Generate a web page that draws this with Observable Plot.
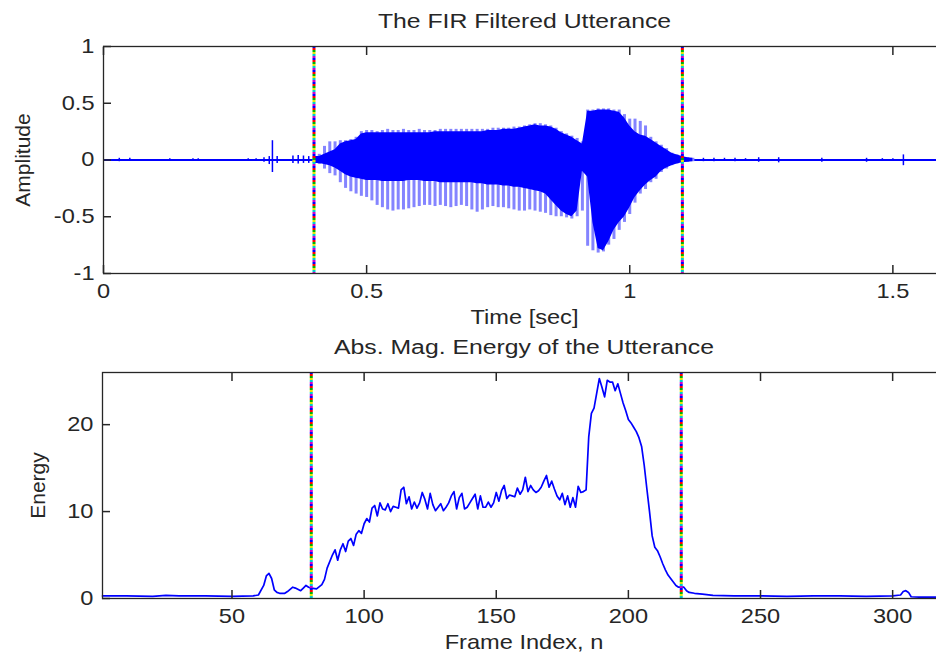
<!DOCTYPE html>
<html>
<head>
<meta charset="utf-8">
<script src="https://cdn.jsdelivr.net/npm/d3@7"></script>
<script src="https://cdn.jsdelivr.net/npm/@observablehq/plot@0.6"></script>
<style>
html, body { margin: 0; padding: 0; background: #fff; }
#wrap { width: 936px; height: 654px; overflow: hidden; position: relative; background: #fff; }
#wrap svg { display: block; max-width: none; }
</style>
</head>
<body>
<div id="wrap"></div>
<script>
// ---------- Panel 1: FIR filtered utterance ----------
const topTitle = "The FIR Filtered Utterance";
const topXLabel = "Time [sec]";
const topYLabel = "Amplitude";
const timeTicks = [0, 0.5, 1, 1.5];
const ampTicks = [-1, -0.5, 0, 0.5, 1];
const timeDomain = [0, 1.6];
const ampDomain = [-1, 1];
const timeBoundaries = [0.4, 1.1];

// envelope of the voiced part, one value per 10 ms
const speechT = [0.40,0.41,0.42,0.43,0.44,0.45,0.46,0.47,0.48,0.49,
  0.50,0.51,0.52,0.53,0.54,0.55,0.56,0.57,0.58,0.59,
  0.60,0.61,0.62,0.63,0.64,0.65,0.66,0.67,0.68,0.69,
  0.70,0.71,0.72,0.73,0.74,0.75,0.76,0.77,0.78,0.79,
  0.80,0.81,0.82,0.83,0.84,0.85,0.86,0.87,0.88,0.89,
  0.90,0.91,0.92,0.93,0.94,0.95,0.96,0.97,0.98,0.99,
  1.00,1.01,1.02,1.03,1.04,1.05,1.06,1.07,1.08,1.09,
  1.10,1.11,1.12];
const denseHi = [0.03,0.03,0.05,0.07,0.09,0.14,0.16,0.17,0.18,0.23,
  0.24,0.24,0.24,0.24,0.24,0.24,0.24,0.24,0.24,0.24,
  0.24,0.24,0.24,0.25,0.25,0.25,0.25,0.25,0.25,0.25,
  0.25,0.25,0.25,0.26,0.26,0.26,0.27,0.27,0.27,0.28,
  0.29,0.30,0.31,0.30,0.30,0.29,0.27,0.24,0.22,0.20,
  0.17,0.14,0.43,0.43,0.44,0.44,0.44,0.43,0.42,0.37,
  0.30,0.25,0.22,0.21,0.18,0.15,0.12,0.09,0.06,0.045,
  0.03,0.02,0.015];
const denseLo = [-0.03,-0.03,-0.04,-0.05,-0.07,-0.10,-0.13,-0.15,-0.16,-0.17,
  -0.18,-0.18,-0.18,-0.19,-0.19,-0.19,-0.19,-0.19,-0.18,-0.18,
  -0.18,-0.19,-0.19,-0.19,-0.20,-0.20,-0.20,-0.20,-0.20,-0.20,
  -0.20,-0.21,-0.21,-0.22,-0.22,-0.22,-0.23,-0.23,-0.24,-0.24,
  -0.25,-0.26,-0.27,-0.28,-0.30,-0.35,-0.40,-0.45,-0.48,-0.50,
  -0.45,-0.10,-0.15,-0.55,-0.78,-0.80,-0.72,-0.62,-0.55,-0.50,
  -0.42,-0.33,-0.27,-0.22,-0.18,-0.15,-0.10,-0.07,-0.05,-0.035,
  -0.025,-0.02,-0.015];
const pulseHi = [0.03,0.05,0.12,0.16,0.16,0.17,0.17,0.18,0.20,0.25,
  0.26,0.26,0.25,0.26,0.27,0.26,0.26,0.27,0.26,0.26,
  0.27,0.26,0.26,0.26,0.27,0.27,0.27,0.27,0.27,0.27,
  0.27,0.27,0.27,0.27,0.28,0.28,0.28,0.28,0.29,0.29,
  0.30,0.31,0.32,0.32,0.31,0.30,0.28,0.25,0.23,0.21,
  0.19,0.16,0.44,0.44,0.45,0.45,0.45,0.44,0.44,0.40,
  0.36,0.36,0.34,0.30,0.20,0.16,0.13,0.10,0.06,0.045,
  0.03,0.02,0.015];
const pulseLo = [-0.03,-0.04,-0.08,-0.12,-0.14,-0.20,-0.25,-0.28,-0.30,-0.32,
  -0.33,-0.36,-0.40,-0.42,-0.44,-0.45,-0.44,-0.44,-0.43,-0.42,
  -0.41,-0.40,-0.40,-0.41,-0.40,-0.41,-0.42,-0.41,-0.40,-0.41,
  -0.44,-0.46,-0.44,-0.42,-0.41,-0.42,-0.42,-0.43,-0.44,-0.45,
  -0.45,-0.44,-0.45,-0.46,-0.47,-0.49,-0.50,-0.50,-0.51,-0.52,
  -0.50,-0.45,-0.76,-0.80,-0.82,-0.81,-0.75,-0.70,-0.62,-0.55,
  -0.48,-0.38,-0.30,-0.26,-0.20,-0.17,-0.11,-0.08,-0.05,-0.035,
  -0.025,-0.02,-0.015];

// isolated clicks in the silent parts
const blipT  = [0.03,0.05,0.126,0.17,0.18,0.275,0.29,0.305,0.315,0.321,0.33,0.36,0.37,0.38,0.39,
  1.14,1.16,1.18,1.20,1.22,1.245,1.283,1.365,1.45,1.48,1.50,1.52];
const blipHi = [0.015,0.015,0.01,0.012,0.012,0.012,0.012,0.02,0.03,0.17,0.03,0.035,0.04,0.035,0.03,
  0.015,0.015,0.015,0.015,0.012,0.02,0.02,0.015,0.015,0.012,0.012,0.045];
const blipLo = [-0.015,-0.012,-0.012,-0.01,-0.012,-0.012,-0.012,-0.02,-0.04,-0.11,-0.03,-0.03,-0.035,-0.03,-0.03,
  -0.015,-0.015,-0.012,-0.015,-0.012,-0.02,-0.025,-0.02,-0.02,-0.012,-0.012,-0.05];

// ---------- Panel 2: energy ----------
const botTitle = "Abs. Mag. Energy of the Utterance";
const botXLabel = "Frame Index, n";
const botYLabel = "Energy";
const frameTicks = [50, 100, 150, 200, 250, 300];
const energyTicks = [0, 10, 20];
const frameDomain = [1, 320];
const energyDomain = [0, 26];
const frameBoundaries = [80, 220];

const energyFrame = [1,10,20,25,30,40,50,58,60,62,63,64,65,66,67,68,70,71,73,74,76,77,78,79,80,82,84,85,86,88,89,90,
  91,92,93,94,95,96,97,98,99,100,101,102,103,104,105,106,107,108,109,110,
  111,112,113,114,115,116,117,118,119,120,121,122,123,124,125,126,127,128,129,130,
  131,132,133,134,135,136,137,138,139,140,141,142,143,144,145,146,147,148,149,150,
  151,152,153,154,155,156,157,158,159,160,161,162,163,164,165,166,167,168,169,170,
  171,172,173,174,175,176,177,178,179,180,181,182,183,184,185,186,187,188,189,190,
  191,192,193,194,195,196,197,198,199,200,201,202,203,204,205,206,207,208,209,210,
  211,212,213,214,215,216,217,218,219,220,221,222,223,225,228,232,240,250,260,270,
  280,290,300,303,304,305,306,307,310,320];
const energyValue = [0.3,0.3,0.25,0.35,0.3,0.3,0.25,0.3,0.4,1.5,2.6,2.9,2.3,1.0,0.7,0.6,0.6,0.8,1.3,1.2,0.9,1.2,1.5,1.3,1.2,1.1,1.6,2.2,3.5,5.0,5.6,4.4,
  5.6,6.3,5.4,6.6,6.9,6.1,7.4,7.8,7.5,8.6,9.2,8.8,10.4,10.7,9.5,11.0,10.3,10.2,10.9,10.0,
  10.6,10.5,10.4,12.5,12.8,10.9,11.7,10.3,11.1,10.4,11.0,12.2,11.4,10.3,12.1,10.8,10.1,10.5,10.9,10.1,
  10.5,11.0,11.8,12.3,10.3,11.6,12.1,10.3,10.5,11.0,11.5,12.0,10.3,11.8,10.5,10.5,11.1,10.5,11.0,12.2,
  11.2,12.4,13.0,11.5,11.9,11.8,11.7,12.7,12.0,12.5,13.95,12.3,13.0,12.5,12.2,12.4,12.8,13.5,14.15,12.8,
  13.5,12.6,11.8,11.35,12.1,10.8,11.8,10.5,11.6,10.5,12.9,12.2,12.3,12.5,18.6,21.3,21.9,23.6,25.3,24.3,
  23.2,25.1,24.9,24.9,23.9,24.7,23.6,22.5,21.6,20.6,20.2,19.7,19.2,18.5,17.5,15.3,12.6,10.0,7.2,5.9,
  5.5,4.8,4.0,3.3,2.7,2.3,1.9,1.5,1.3,1.3,1.3,0.9,0.7,0.6,0.5,0.35,0.3,0.3,0.25,0.3,
  0.3,0.25,0.3,0.4,0.8,0.9,0.7,0.2,0.15,0.15];

// ---------- styling ----------
const FONT = '"Liberation Sans", Arial, Helvetica, sans-serif';
const INK = "#262626";
const BLUE = "#0000ff";
const LIGHT = "#8484ff";
const dotColors = ["#0000ff", "#ff0000", "#00b000", "#e6e600", "#00cccc", "#cc00cc"];
const TICK = 8;

const speech = speechT.map((t, i) => ({t, hi: denseHi[i], lo: denseLo[i], phi: pulseHi[i], plo: pulseLo[i]}));
const blips = blipT.map((t, i) => ({t, hi: blipHi[i], lo: blipLo[i]}));
const energy = energyFrame.map((n, i) => ({n, e: energyValue[i]}));

function boundaryMarks(values) {
  const k = dotColors.length;
  return dotColors.map((c, i) => Plot.ruleX(values, {
    stroke: c, strokeWidth: 3,
    strokeDasharray: `2,${2 * k - 2}`, strokeDashoffset: -2 * i
  }));
}

// box, inward ticks (MATLAB style), tick labels, titles
function axesMarks(xt, yt, dims, {title, xLabel, yLabel, yLabelDx}) {
  return [
    Plot.frame({stroke: INK, strokeWidth: 1.3}),
    Plot.axisX(xt, {anchor: "bottom", tickSize: TICK, dy: -TICK, text: null, label: null, stroke: INK, strokeWidth: 1.5}),
    Plot.axisX(xt, {anchor: "top", tickSize: TICK, dy: TICK, text: null, label: null, stroke: INK, strokeWidth: 1.5}),
    Plot.axisY(yt, {anchor: "left", tickSize: TICK, dx: TICK, text: null, label: null, stroke: INK, strokeWidth: 1.5}),
    Plot.axisX(xt, {anchor: "bottom", tickSize: 0, tickPadding: 18, lineAnchor: "middle",
      label: null, tickFormat: d => String(d), fill: INK}),
    Plot.axisY(yt, {anchor: "left", tickSize: 0, tickPadding: 9, label: null,
      tickFormat: d => String(d), fill: INK}),
    Plot.text([title], {frameAnchor: "top", dy: -25, fontSize: 21, lineAnchor: "middle", fill: INK}),
    Plot.text([xLabel], {frameAnchor: "bottom", dy: 44, lineAnchor: "middle", fill: INK}),
    Plot.text([yLabel], {frameAnchor: "left", dx: yLabelDx, rotate: -90, fontSize: 21,
      lineAnchor: "middle", textAnchor: "middle", fill: INK})
  ];
}

function stretchText(svg, sx) {
  svg.querySelectorAll("text").forEach(t => {
    const tr = t.getAttribute("transform") || "";
    if (tr.includes("rotate")) return;
    let base = tr;
    if (!tr) {
      const x = t.getAttribute("x") || 0, y = t.getAttribute("y") || 0;
      t.removeAttribute("x"); t.removeAttribute("y");
      base = `translate(${x},${y})`;
    }
    t.setAttribute("transform", `${base} scale(${sx},1)`);
  });
}

const common = {fontFamily: FONT, fontSize: "20px", color: INK, background: "white", overflow: "hidden"};

const topDims = {width: 945, height: 330, marginLeft: 103, marginRight: 0, marginTop: 46, marginBottom: 57};
const botDims = {width: 945, height: 324, marginLeft: 102, marginRight: 0, marginTop: 42, marginBottom: 56};

const topPlot = Plot.plot({
  ...topDims,
  style: common,
  x: {domain: timeDomain},
  y: {domain: ampDomain},
  marks: [
    Plot.ruleY([0], {stroke: BLUE, strokeWidth: 2}),
    Plot.ruleX(blips, {x: "t", y1: "lo", y2: "hi", stroke: BLUE, strokeWidth: 1.5}),
    Plot.ruleX(speech, {x: "t", y1: "plo", y2: "phi", stroke: LIGHT, strokeWidth: 3}),
    Plot.areaY(speech, {x: "t", y1: "lo", y2: "hi", fill: BLUE}),
    ...boundaryMarks(timeBoundaries),
    ...axesMarks(timeTicks, ampTicks, topDims,
      {title: topTitle, xLabel: topXLabel, yLabel: topYLabel, yLabelDx: -80.5})
  ]
});

const botPlot = Plot.plot({
  ...botDims,
  style: common,
  x: {domain: frameDomain},
  y: {domain: energyDomain},
  marks: [
    Plot.line(energy, {x: "n", y: "e", stroke: BLUE, strokeWidth: 1.7}),
    ...boundaryMarks(frameBoundaries),
    ...axesMarks(frameTicks, energyTicks, botDims,
      {title: botTitle, xLabel: botXLabel, yLabel: botYLabel, yLabelDx: -64.5})
  ]
});

stretchText(topPlot, 1.18);
stretchText(botPlot, 1.18);
const wrap = document.getElementById("wrap");
wrap.appendChild(topPlot);
wrap.appendChild(botPlot);
</script>
</body>
</html>
